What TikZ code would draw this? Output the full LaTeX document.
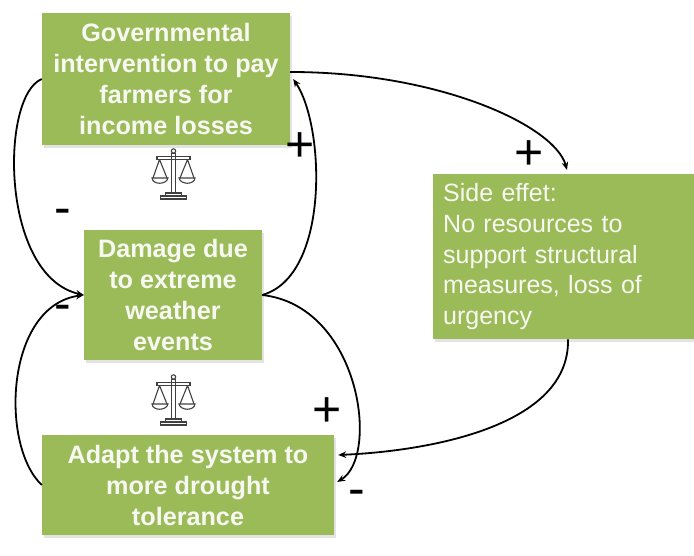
\documentclass[tikz,border=0pt]{standalone}
\usepackage{fontspec}
\setmainfont{Liberation Sans}
\usetikzlibrary{arrows.meta,shadows}
\definecolor{verde}{RGB}{155,187,89}
\definecolor{blanco}{RGB}{248,248,242}
\tikzset{
	caja/.style={fill=verde, text=blanco, inner sep=0pt, align=center,
		font=\bfseries\fontsize{25.2}{31}\selectfont,
		drop shadow={shadow xshift=2pt, shadow yshift=-3pt, fill=black!22}},
	efecto/.style={caja, font=\fontsize{25}{30.7}\selectfont, align=left,
		inner xsep=10pt, text width=280pt, minimum height=165pt},
	flecha/.style={line width=1.8pt, -{Stealth[length=8pt,width=6.5pt]}},
	signo/.style={font=\fontsize{50}{50}\selectfont, inner sep=0pt},
	balanza/.pic={
		\begin{scope}[draw=black!75, line width=1.1pt]
			\draw (0,23) circle (2.2); % perilla
			\draw (-2,-19) rectangle (2,20.8); % poste
			\draw (-16.5,14.5) rectangle (16.5,17.5); % brazo
			\draw (-14,14.5) -- (-20.5,-4) (-14,14.5) -- (-6.5,-4);
			\draw (-21.5,-4) .. controls (-21,-11) and (-7,-11) .. (-5.5,-4) -- cycle;
			\draw (14,14.5) -- (20.5,-4) (14,14.5) -- (6.5,-4);
			\draw (21.5,-4) .. controls (21,-11) and (7,-11) .. (5.5,-4) -- cycle;
			\draw (-8,-22) rectangle (8,-19); % base
			\draw (-13,-25) rectangle (13,-22);
		\end{scope}
	}
}
\begin{document}
\begin{tikzpicture}[x=1pt,y=1pt]
	\useasboundingbox (0,0) rectangle (694,556);

	% cajas
	\node[caja, minimum width=248pt, minimum height=132pt] (gob) at (166,477) {Governmental\\intervention to pay\\farmers for\\income losses};
	\node[caja, minimum width=178pt, minimum height=130pt] (dano) at (173,261) {Damage due\\to extreme\\weather\\events};
	\node[caja, minimum width=292pt, minimum height=100pt] (adapt) at (188,71) {Adapt the system to\\more drought\\tolerance};
	\node[efecto, anchor=north west] (efecto) at (433,382) {Side effet:\\No resources to\\support structural\\measures, loss of\\urgency};

	% balanzas
	\pic at (173.5,382) {balanza};
	\pic at (173.5,156) {balanza};

	% flechas lado izquierdo
	\draw[flecha] (gob.west) .. controls (0,460) and (0,280) .. (dano.west);
	\draw[flecha] (adapt.west) .. controls (0,110) and (5,250) .. (dano.west);

	% flechas lado derecho
	\draw[flecha] (dano.east) .. controls (330,280) and (325,430) .. ([xshift=3pt]gob.east);
	\draw[flecha] (dano.east) .. controls (360,250) and (380,100) .. ([xshift=3pt,yshift=3pt]adapt.east);
	\draw[flecha] ([yshift=7pt]gob.east) .. controls (440,484) and (555,430) .. ([xshift=134pt,yshift=4pt]efecto.north west);
	\draw[flecha] ([xshift=135pt]efecto.south west) .. controls (570,130) and (430,105) .. ([xshift=4pt,yshift=30pt]adapt.east);

	% signos
	\node[signo] (s1) at (300,409) {+};
	\node[signo] (s2) at (529,401) {+};
	\node[signo] (s3) at (63,339) {-};
	\node[signo] (s4) at (63,243) {-};
	\node[signo] (s5) at (327,144) {+};
	\node[signo] (s6) at (357,58) {-};
\end{tikzpicture}
\end{document}
